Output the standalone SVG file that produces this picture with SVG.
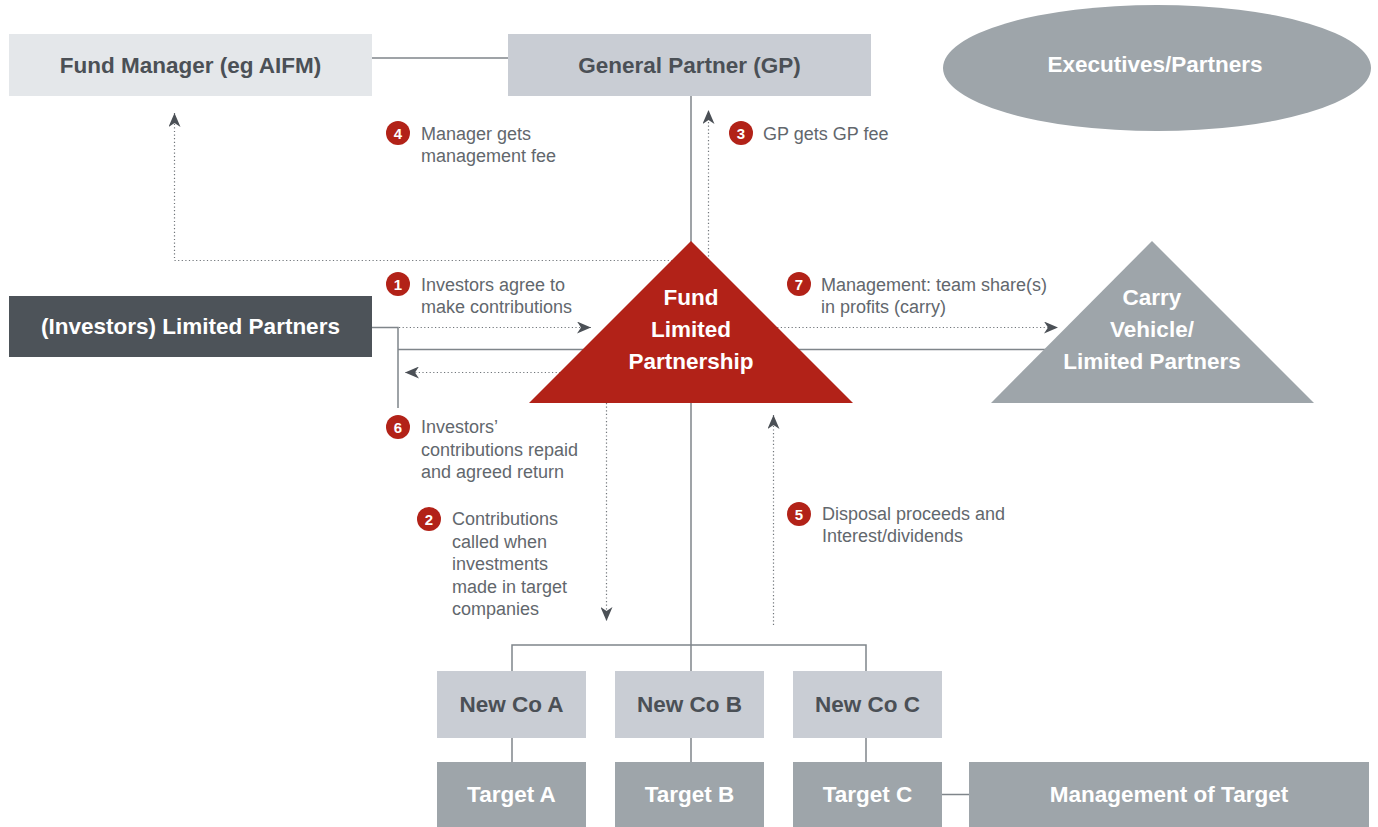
<svg xmlns="http://www.w3.org/2000/svg" width="1378" height="827" viewBox="0 0 1378 827">
<style>
.bt{font-family:"Liberation Sans",Arial,sans-serif;font-weight:bold;font-size:22.5px;text-anchor:middle}
.dk{fill:#4b5056}
.wh{fill:#ffffff}
.lb{font-family:"Liberation Sans",Arial,sans-serif;font-size:18px;fill:#62676d}
.num{font-family:"Liberation Sans",Arial,sans-serif;font-weight:bold;font-size:15px;fill:#fff;text-anchor:middle}
.sol{fill:none;stroke:#7f858a;stroke-width:1.5}
.dot{fill:none;stroke:#70757a;stroke-width:1.2;stroke-dasharray:1.2 2.4}
.badge{fill:#b22218}
</style>
<defs>
<marker id="ah" markerUnits="userSpaceOnUse" markerWidth="15" markerHeight="12" refX="14" refY="6" orient="auto" viewBox="0 0 15 12">
<path d="M0,0 L14,6 L0,12 L4,6 z" fill="#4b5056"/>
</marker>
</defs>
<rect width="1378" height="827" fill="#ffffff"/>
<g id="connectors">
<path class="sol" d="M372,58 H508"/>
<path class="sol" d="M691,96 V260"/>
<path class="sol" d="M372,327.5 H398 V408"/>
<path class="sol" d="M398,349.5 H1150"/>
<path class="sol" d="M691,403 V671"/>
<path class="sol" d="M512,671 V645 H866 V671"/>
<path class="sol" d="M512,738 V762"/>
<path class="sol" d="M691,738 V762"/>
<path class="sol" d="M866,738 V762"/>
<path class="sol" d="M942,794.5 H969"/>
<path class="dot" d="M708.5,260 V110" marker-end="url(#ah)"/>
<path class="dot" d="M708.5,260.5 H174.5 V113" marker-end="url(#ah)"/>
<path class="dot" d="M399,327.5 H591" marker-end="url(#ah)"/>
<path class="dot" d="M600,372.5 H405" marker-end="url(#ah)"/>
<path class="dot" d="M770,327.5 H1058" marker-end="url(#ah)"/>
<path class="dot" d="M606.5,403 V621" marker-end="url(#ah)"/>
<path class="dot" d="M773.5,625 V415" marker-end="url(#ah)"/>
</g>
<g id="fund-manager">
<rect x="9" y="34" width="363" height="62" fill="#e4e7ea"/>
<text class="bt dk" x="190.5" y="73">Fund Manager (eg AIFM)</text>
</g>
<g id="general-partner">
<rect x="508" y="34" width="363" height="62" fill="#c9cdd4"/>
<text class="bt dk" x="689.5" y="73">General Partner (GP)</text>
</g>
<g id="executives-partners">
<ellipse cx="1157" cy="68" rx="214" ry="63" fill="#9ea5aa"/>
<text class="bt wh" x="1155" y="72">Executives/Partners</text>
</g>
<g id="investors-lp">
<rect x="9" y="296" width="363" height="61" fill="#4d5359"/>
<text class="bt wh" x="190.5" y="334">(Investors) Limited Partners</text>
</g>
<g id="fund-lp">
<polygon points="691,241 529,403 853,403" fill="#b22218"/>
<text class="bt wh" x="691" y="305">Fund</text>
<text class="bt wh" x="691" y="337">Limited</text>
<text class="bt wh" x="691" y="369">Partnership</text>
</g>
<g id="carry-vehicle">
<polygon points="1152,241 991,403 1314,403" fill="#9ea5aa"/>
<text class="bt wh" x="1152" y="305">Carry</text>
<text class="bt wh" x="1152" y="337">Vehicle/</text>
<text class="bt wh" x="1152" y="369">Limited Partners</text>
</g>
<g id="newco-a">
<rect x="437" y="671" width="149" height="67" fill="#c9cdd4"/>
<text class="bt dk" x="511.5" y="712">New Co A</text>
</g>
<g id="newco-b">
<rect x="615" y="671" width="149" height="67" fill="#c9cdd4"/>
<text class="bt dk" x="689.5" y="712">New Co B</text>
</g>
<g id="newco-c">
<rect x="793" y="671" width="149" height="67" fill="#c9cdd4"/>
<text class="bt dk" x="867.5" y="712">New Co C</text>
</g>
<g id="target-a">
<rect x="437" y="762" width="149" height="65" fill="#9ea5aa"/>
<text class="bt wh" x="511.5" y="802">Target A</text>
</g>
<g id="target-b">
<rect x="615" y="762" width="149" height="65" fill="#9ea5aa"/>
<text class="bt wh" x="689.5" y="802">Target B</text>
</g>
<g id="target-c">
<rect x="793" y="762" width="149" height="65" fill="#9ea5aa"/>
<text class="bt wh" x="867.5" y="802">Target C</text>
</g>
<g id="management-target">
<rect x="969" y="762" width="400" height="65" fill="#9ea5aa"/>
<text class="bt wh" x="1169" y="802">Management of Target</text>
</g>
<g id="label-1">
<circle class="badge" cx="398" cy="284" r="12"/>
<text class="num" x="398" y="289.5">1</text>
<text class="lb" x="421" y="291">Investors agree to</text>
<text class="lb" x="421" y="312.5">make contributions</text>
</g>
<g id="label-2">
<circle class="badge" cx="429" cy="519" r="12"/>
<text class="num" x="429" y="524.5">2</text>
<text class="lb" x="452" y="525">Contributions</text>
<text class="lb" x="452" y="547.5">called when</text>
<text class="lb" x="452" y="570">investments</text>
<text class="lb" x="452" y="592.5">made in target</text>
<text class="lb" x="452" y="615">companies</text>
</g>
<g id="label-3">
<circle class="badge" cx="741" cy="133" r="12"/>
<text class="num" x="741" y="138.5">3</text>
<text class="lb" x="763" y="140">GP gets GP fee</text>
</g>
<g id="label-4">
<circle class="badge" cx="398" cy="133" r="12"/>
<text class="num" x="398" y="138.5">4</text>
<text class="lb" x="421" y="140">Manager gets</text>
<text class="lb" x="421" y="162">management fee</text>
</g>
<g id="label-5">
<circle class="badge" cx="799" cy="514" r="12"/>
<text class="num" x="799" y="519.5">5</text>
<text class="lb" x="822" y="520">Disposal proceeds and</text>
<text class="lb" x="822" y="542">Interest/dividends</text>
</g>
<g id="label-6">
<circle class="badge" cx="398" cy="427" r="12"/>
<text class="num" x="398" y="432.5">6</text>
<text class="lb" x="421" y="433">Investors’</text>
<text class="lb" x="421" y="455.5">contributions repaid</text>
<text class="lb" x="421" y="478">and agreed return</text>
</g>
<g id="label-7">
<circle class="badge" cx="799" cy="284" r="12"/>
<text class="num" x="799" y="289.5">7</text>
<text class="lb" x="821" y="291">Management: team share(s)</text>
<text class="lb" x="821" y="312.5">in profits (carry)</text>
</g>
</svg>
